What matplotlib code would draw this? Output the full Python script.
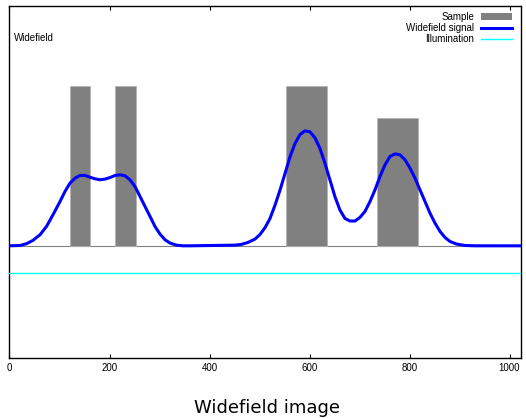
import numpy as np
import matplotlib
matplotlib.use("Agg")
import matplotlib.pyplot as plt
from matplotlib.patches import Patch
from matplotlib.lines import Line2D

# sample boxes (position in pixels, relative height)
sample_left = [120, 210, 553, 734]
sample_right = [161, 252, 635, 816]
sample_height = [1.0, 1.0, 1.0, 0.8]

# widefield signal
signal_x = [0, 21, 34, 47, 61, 74, 87, 101, 111, 121,
            131, 141, 151, 161, 171, 181, 191, 201, 211, 221,
            231, 241, 251, 261, 271, 281, 291, 301, 311, 321,
            334, 347, 361, 451, 464, 477, 491, 501, 511, 521,
            531, 541, 551, 561, 571, 581, 591, 601, 611, 621,
            631, 641, 651, 661, 671, 681, 691, 701, 711, 721,
            731, 741, 751, 761, 771, 781, 791, 801, 811, 821,
            831, 841, 851, 861, 871, 881, 894, 911, 931, 1023]
signal_y = [0.0, 0.002, 0.013, 0.034, 0.069, 0.121, 0.194, 0.277, 0.340, 0.392,
            0.423, 0.440, 0.440, 0.429, 0.419, 0.413, 0.417, 0.427, 0.440, 0.444,
            0.438, 0.413, 0.371, 0.309, 0.246, 0.184, 0.121, 0.073, 0.038, 0.017,
            0.004, 0.0, 0.0, 0.004, 0.009, 0.021, 0.042, 0.071, 0.113, 0.171,
            0.254, 0.348, 0.452, 0.556, 0.640, 0.696, 0.719, 0.713, 0.675, 0.609,
            0.515, 0.411, 0.306, 0.223, 0.171, 0.155, 0.155, 0.178, 0.215, 0.277,
            0.350, 0.434, 0.506, 0.559, 0.575, 0.569, 0.538, 0.486, 0.423, 0.350,
            0.277, 0.204, 0.142, 0.090, 0.052, 0.027, 0.011, 0.002, 0.0, 0.0]

# flat illumination
illum_x = [0, 1023]
illum_y = [-0.17, -0.17]

xticks = [0, 200, 400, 600, 800, 1000]

plt.rcParams['font.family'] = ['Liberation Sans', 'DejaVu Sans']
fig = plt.figure(figsize=(5.26, 4.18), dpi=100)
ax = fig.add_axes([9.5 / 526, 1 - 357.7 / 418, 511.5 / 526, 351.7 / 418])

ax.axhline(0, color='#808080', lw=0.8, zorder=1)
widths = [r - l for l, r in zip(sample_left, sample_right)]
ax.bar(sample_left, sample_height, width=widths, align='edge', color='#808080',
       edgecolor='#b4b4b4', linewidth=0.6, zorder=2)
ax.plot(signal_x, signal_y, color='#0000ff', lw=2.2, solid_joinstyle='round', zorder=4)
ax.plot(illum_x, illum_y, color='#00ffff', lw=1.0, zorder=3)

ax.set_xlim(0, 1023)
ax.set_ylim(-0.7, 1.5)
ax.set_xticks(xticks)
ax.set_yticks([])
ax.tick_params(axis='x', direction='in', length=3, width=0.8, top=True, labelsize=7, pad=4)
for s in ax.spines.values():
    s.set_linewidth(1.0)

handles = [Patch(facecolor='#808080', edgecolor='none'),
           Line2D([], [], color='#0000ff', lw=2.2),
           Line2D([], [], color='#00ffff', lw=1.0)]
labels = ["Sample", "Widefield signal", "Illumination"]
ax.legend(handles, labels, loc='upper right', bbox_to_anchor=(1.0, 1.008), frameon=False,
          markerfirst=False, handlelength=3.2, handleheight=0.6,
          handletextpad=0.7, labelspacing=0.1, prop={'family': 'Liberation Sans', 'size': 7})

ax.text(0.009, 0.909, "Widefield", transform=ax.transAxes, fontsize=7, va='center',
        family='Liberation Sans')

fig.text(267 / 526, 1 - 408 / 418, "Widefield image", ha='center', va='center',
         fontsize=13, family='DejaVu Sans')

fig.savefig("out.png", dpi=100)
